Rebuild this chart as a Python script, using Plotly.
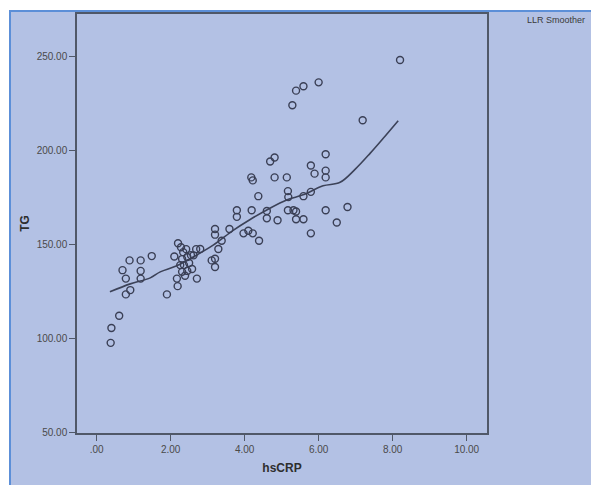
import plotly.graph_objects as go

hscrp = [0.38, 0.40, 0.61, 0.79, 0.91, 0.70, 0.79, 0.89, 1.19, 1.19, 1.19, 1.49, 1.90,
         2.10, 2.17, 2.19, 2.71, 2.80, 2.28, 2.34, 2.42, 2.31, 2.45, 2.55, 2.26, 2.36,
         2.50, 2.31, 2.45, 2.58, 2.39, 2.62, 2.20, 2.69,
         3.11, 3.20, 3.20, 3.29, 3.38, 3.20, 3.20, 3.59, 3.97, 4.10, 4.22, 4.39,
         3.79, 3.79, 4.19, 4.60, 4.60, 4.89, 5.17, 4.37, 5.17, 5.18, 4.18, 4.22,
         4.81, 5.14, 4.69, 4.81,
         8.20, 6.00, 5.59, 5.39, 5.29, 7.19, 6.19, 5.79, 5.89, 6.19, 6.19, 5.59,
         5.79, 5.32, 5.39, 5.39, 5.59, 6.19, 6.78, 6.49, 5.79]
tg = [97.5, 105.4, 111.9, 123.3, 125.6, 136.2, 131.7, 141.4, 141.4, 135.8, 131.7, 143.7, 123.3,
      143.5, 131.7, 127.7, 131.7, 147.5, 148.4, 145.8, 147.4, 142.1, 143.2, 144.2, 138.9, 138.9,
      140.0, 135.3, 135.8, 136.8, 133.2, 144.1, 150.5, 147.4,
      141.4, 142.3, 137.9, 147.5, 151.9, 158.1, 155.1, 158.1, 155.8, 157.2, 155.8, 151.9,
      168.1, 164.6, 168.1, 167.7, 163.8, 162.8, 168.1, 175.6, 178.3, 175.1, 185.6, 184.0,
      185.6, 185.6, 194.1, 196.2,
      248.1, 236.2, 234.1, 231.8, 224.0, 216.0, 197.9, 191.9, 187.6, 189.2, 185.6, 175.6,
      177.9, 168.1, 167.4, 163.3, 163.3, 168.1, 169.8, 161.6, 155.8]

smooth_x = [0.36, 0.91, 1.45, 1.72, 2.15, 2.61, 3.15, 3.69, 4.15, 4.61, 5.15, 5.58,
            6.12, 6.58, 6.99, 7.39, 7.74, 8.15]
smooth_y = [124.7, 128.9, 132.1, 135.3, 138.4, 143.2, 149.5, 157.4, 163.2, 168.4, 173.7, 176.3,
            181.1, 183.0, 190.0, 198.4, 206.3, 215.8]

x_ticks = [0, 2, 4, 6, 8, 10]
x_labels = [".00", "2.00", "4.00", "6.00", "8.00", "10.00"]
y_ticks = [50, 100, 150, 200, 250]
y_labels = ["50.00", "100.00", "150.00", "200.00", "250.00"]

W, H = 591, 485
L, R, T, B = 77, 487, 14, 438

def px(x):
    return (x - L) / (R - L)

def py(y):
    return (B - y) / (B - T)

fig = go.Figure()
fig.add_trace(go.Scatter(
    x=smooth_x, y=smooth_y, mode="lines", line=dict(color="#3c4258", width=1.6, shape="spline"),
    hoverinfo="skip"))
fig.add_trace(go.Scatter(
    x=hscrp, y=tg, mode="markers",
    marker=dict(symbol="circle-open", size=7, color="#3a3f55", line=dict(width=1.4, color="#3a3f55"))))

fig.add_shape(type="rect", xref="paper", yref="paper",
              x0=px(10), x1=px(660), y0=py(11), y1=py(560),
              fillcolor="#b3c1e4", line=dict(color="#5c8fd8", width=2), layer="below")

fig.add_annotation(xref="paper", yref="paper", x=px(525), y=py(20), xanchor="left", yanchor="middle",
                   text="LLR Smoother", showarrow=False,
                   font=dict(family="Liberation Sans, Arial", size=9, color="#3a3a3a"))

axis_font = dict(family="Liberation Sans, Arial", size=10, color="#4a4a4a")
title_font = dict(family="Liberation Sans, Arial", size=12, color="#2e2e2e")
fig.update_layout(
    width=W, height=H,
    margin=dict(l=L, r=W - R, t=T, b=H - B),
    paper_bgcolor="white",
    plot_bgcolor="#a6b4d7",
    showlegend=False,
    xaxis=dict(range=[-0.53, 10.55], tickvals=x_ticks, ticktext=x_labels,
               showgrid=False, zeroline=False, showline=True, linecolor="#505868", linewidth=1.5,
               mirror=True, ticks="outside", ticklen=6, tickcolor="#505868",
               tickfont=axis_font,
               title=dict(text="<b>hsCRP</b>", font=title_font, standoff=10)),
    yaxis=dict(range=[49.5, 272.6], tickvals=y_ticks, ticktext=y_labels,
               showgrid=False, zeroline=False, showline=True, linecolor="#505868", linewidth=1.5,
               mirror=True, ticks="outside", ticklen=6, tickcolor="#505868",
               tickfont=axis_font,
               title=dict(text="<b>TG</b>", font=title_font, standoff=4)),
)

fig.write_html("out.html")
